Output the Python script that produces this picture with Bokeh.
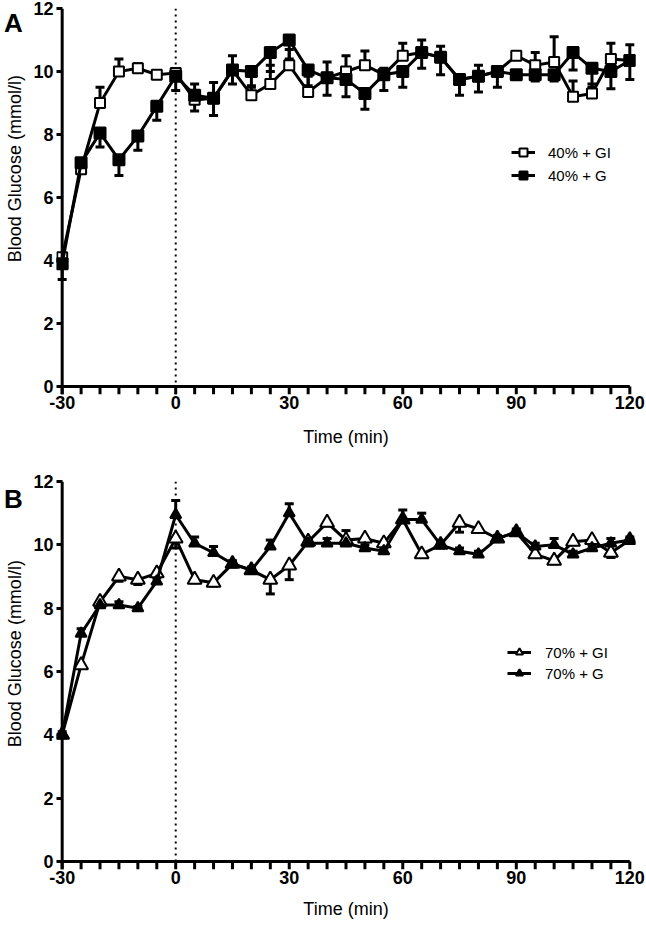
import math
from bokeh.plotting import figure
from bokeh.models import (Range1d, FixedTicker, Span, Whisker, TeeHead, ColumnDataSource,
                          Legend, LegendItem)
from bokeh.layouts import column, row
from bokeh.embed import file_html
from bokeh.resources import INLINE
from bokeh.core.properties import value

FONT = "Liberation Sans"

# ---------------- data ----------------
time_min = [-30, -25, -20, -15, -10, -5, 0, 5, 10, 15, 20, 25, 30, 35, 40, 45, 50,
            55, 60, 65, 70, 75, 80, 85, 90, 95, 100, 105, 110, 115, 120]

x_major_ticks = [-30, 0, 30, 60, 90, 120]
x_tick_labels = ["-30", "0", "30", "60", "90", "120"]
x_minor_ticks = [-30, -25, -20, -15, -10, -5, 0, 5, 10, 15, 20, 25, 30, 35, 40, 45, 50,
                 55, 60, 65, 70, 75, 80, 85, 90, 95, 100, 105, 110, 115, 120]
y_ticks = [0, 2, 4, 6, 8, 10, 12]
x_title = "Time (min)"
y_title = "Blood Glucose (mmol/l)"

# Panel A
a_gi_label = "40% + GI"
a_gi = [4.1, 6.9, 9.0, 10.0, 10.1, 9.9, 9.95, 9.1, 9.15, 10.05, 9.25, 9.6, 10.2, 9.35,
        9.8, 10.0, 10.2, 9.9, 10.5, 10.6, 10.45, 9.75, 9.85, 10.0, 10.5, 10.2, 10.3,
        9.2, 9.3, 10.4, 10.35]
a_gi_err = [0.1, 0.1, 0.5, 0.4, 0.15, 0.05, 0.1, 0.5, 0.5, 0.45, 0.3, 0.6, 0.5, 0.5,
            0.5, 0.5, 0.45, 0.2, 0.4, 0.4, 0.35, 0.05, 0.35, 0.05, 0.1, 0.4, 0.8,
            0.5, 0.3, 0.5, 0.5]
a_g_label = "40% + G"
a_g = [3.9, 7.1, 8.05, 7.2, 7.95, 8.9, 9.85, 9.25, 9.15, 10.05, 10.0, 10.6, 11.0, 10.05,
       9.8, 9.75, 9.3, 9.9, 10.0, 10.6, 10.45, 9.75, 9.85, 10.0, 9.9, 9.9, 9.9,
       10.6, 10.1, 10.0, 10.35]
a_g_err = [0.5, 0.2, 0.45, 0.5, 0.45, 0.45, 0.45, 0.5, 0.55, 0.45, 0.5, 0.6, 0.6, 0.5,
           0.55, 0.55, 0.5, 0.5, 0.5, 0.5, 0.55, 0.5, 0.5, 0.5, 0.1, 0.2, 0.2,
           0.55, 0.6, 0.55, 0.6]

# Panel B
b_gi_label = "70% + GI"
b_gi = [4.0, 6.2, 8.2, 9.0, 8.9, 9.1, 10.2, 8.9, 8.8, 9.4, 9.2, 8.9, 9.35, 10.1,
        10.7, 10.15, 10.2, 10.05, 10.8, 9.7, 10.0, 10.7, 10.5, 10.2, 10.4, 9.7, 9.5,
        10.1, 10.15, 9.75, 10.15]
b_gi_err = [0.1, 0.1, 0.1, 0.15, 0.15, 0.1, 0.3, 0.1, 0.1, 0.1, 0.1, 0.45, 0.45, 0.1,
            0.1, 0.1, 0.1, 0.1, 0.1, 0.1, 0.1, 0.3, 0.1, 0.1, 0.1, 0.1, 0.1,
            0.1, 0.1, 0.15, 0.1]
b_g_label = "70% + G"
b_g = [4.0, 7.2, 8.1, 8.1, 8.0, 8.85, 10.95, 10.05, 9.75, 9.4, 9.2, 9.95, 11.0, 10.05,
       10.05, 10.05, 9.9, 9.8, 10.8, 10.8, 10.0, 9.8, 9.7, 10.2, 10.4, 9.95, 10.0,
       9.7, 9.9, 10.05, 10.15]
b_g_err = [0.1, 0.15, 0.1, 0.1, 0.05, 0.1, 0.45, 0.2, 0.2, 0.1, 0.1, 0.2, 0.3, 0.1,
           0.15, 0.4, 0.1, 0.1, 0.3, 0.2, 0.1, 0.1, 0.1, 0.1, 0.1, 0.1, 0.2,
           0.1, 0.1, 0.15, 0.1]

SIDE_W = 30
MAIN_W = 616
TICK_LEN = 8


def make_side(letter, height, letter_y, title_y):
    # narrow figure that holds the panel letter and the rotated y-axis title
    s = figure(width=SIDE_W, height=height, output_backend="svg", toolbar_location=None,
               x_range=Range1d(0, SIDE_W), y_range=Range1d(0, height),
               x_axis_location=None, y_axis_location=None,
               min_border=0, min_border_left=0, min_border_right=0,
               min_border_top=0, min_border_bottom=0)
    s.outline_line_color = None
    s.xgrid.visible = False
    s.ygrid.visible = False
    s.text(x=[13], y=[height - letter_y], text=[letter], text_font=value(FONT),
           text_font_size=value("26px"), text_font_style="bold", text_color="black",
           text_align="center", text_baseline="middle")
    s.text(x=[14], y=[height - title_y], text=[y_title], angle=math.pi / 2,
           text_font=value(FONT), text_font_size=value("18px"), text_color="black",
           text_align="center", text_baseline="middle")
    return s


def make_panel(series, height, b_top, b_bottom, px_unit, leg_loc, leg_gh, leg_sp, leg_std,
               xl_standoff):
    y_pad = TICK_LEN / px_unit   # room under y=0 so that the x ticks lie inside the frame
    p = figure(width=MAIN_W, height=height, output_backend="svg", toolbar_location=None,
               x_range=Range1d(-31.5, 121.5), y_range=Range1d(-y_pad, 12),
               min_border_left=26, min_border_right=11,
               min_border_top=b_top, min_border_bottom=b_bottom)
    p.outline_line_color = None
    p.xgrid.visible = False
    p.ygrid.visible = False

    xa = p.xaxis[0]
    ya = p.yaxis[0]
    xa.ticker = FixedTicker(ticks=x_major_ticks)
    xa.major_label_overrides = dict(zip(x_major_ticks, x_tick_labels))
    ya.ticker = FixedTicker(ticks=y_ticks)
    for ax in (xa, ya):
        ax.axis_line_color = None
        ax.major_tick_line_width = 3
        ax.major_tick_line_color = "black"
        ax.minor_tick_line_color = None
        ax.major_label_text_font = FONT
        ax.major_label_text_font_style = "bold"
        ax.major_label_text_font_size = "18px"
        ax.major_label_text_color = "black"
    xa.major_tick_line_color = None
    xa.major_tick_out = 0
    xa.major_tick_in = 0
    xa.major_label_standoff = 1
    xa.axis_label = x_title
    xa.axis_label_text_font = FONT
    xa.axis_label_text_font_size = "18px"
    xa.axis_label_text_font_style = "normal"
    xa.axis_label_text_color = "black"
    xa.axis_label_standoff = xl_standoff
    ya.major_tick_out = 0
    ya.major_tick_in = 6
    ya.major_label_standoff = 3

    # axis lines: y at x = -30, x at y = 0, and the x tick marks under it
    p.add_layout(Span(location=x_major_ticks[0], dimension="height", line_color="black",
                      line_width=3))
    p.line(x=[x_major_ticks[0], x_major_ticks[-1]], y=[y_ticks[0], y_ticks[0]],
           line_width=3, line_color="black")
    tick_src = ColumnDataSource(dict(x=x_minor_ticks,
                                     y0=[y_ticks[0]] * len(x_minor_ticks),
                                     y1=[-y_pad] * len(x_minor_ticks)))
    p.segment(x0="x", y0="y0", x1="x", y1="y1", source=tick_src,
              line_width=3, line_color="black")
    p.add_layout(Span(location=0, dimension="height", line_color="black",
                      line_width=2, line_dash="2 4", level="underlay"))

    items = []
    for s in series:
        src = ColumnDataSource(dict(
            x=time_min, y=s["y"],
            upper=[v + e if s["dir"] > 0 else v for v, e in zip(s["y"], s["err"])],
            lower=[v if s["dir"] > 0 else v - e for v, e in zip(s["y"], s["err"])],
        ))
        head = TeeHead(size=9, line_width=3, line_color="black")
        if s["dir"] > 0:
            w = Whisker(source=src, base="x", upper="upper", lower="lower",
                        line_width=3, line_color="black", upper_head=head, lower_head=None,
                        level="underlay")
        else:
            w = Whisker(source=src, base="x", upper="upper", lower="lower",
                        line_width=3, line_color="black", lower_head=head, upper_head=None,
                        level="underlay")
        p.add_layout(w)
        lr = p.line("x", "y", source=src, line_width=3, line_color="black",
                    line_join="miter")
        sr = p.scatter("x", "y", source=src, marker=s["marker"], size=s["size"],
                       fill_color=s["fill"], line_color="black", line_width=2)
        items.append(LegendItem(label=s["label"], renderers=[lr, sr]))

    leg = Legend(items=items, location=leg_loc, orientation="vertical",
                 glyph_width=24, glyph_height=leg_gh, label_height=leg_gh,
                 label_standoff=leg_std, spacing=leg_sp, padding=0, margin=0,
                 border_line_color=None, background_fill_alpha=0,
                 label_text_font=FONT, label_text_font_size="15px",
                 label_text_color="black")
    p.add_layout(leg)
    return p


H_A = 470
H_B = 453

pA = make_panel([
    dict(y=a_gi, err=a_gi_err, dir=1, marker="square", size=10, fill="white", label=a_gi_label),
    dict(y=a_g, err=a_g_err, dir=-1, marker="square", size=11, fill="black", label=a_g_label),
], height=H_A, b_top=8, b_bottom=76, px_unit=378 / 12, leg_loc=(455, 209), leg_gh=20,
    leg_sp=3, leg_std=13, xl_standoff=15)
sA = make_side("A", H_A, letter_y=18, title_y=195)

pB = make_panel([
    dict(y=b_gi, err=b_gi_err, dir=-1, marker="triangle", size=14, fill="white", label=b_gi_label),
    dict(y=b_g, err=b_g_err, dir=1, marker="triangle", size=11, fill="black", label=b_g_label),
], height=H_B, b_top=11, b_bottom=54, px_unit=380 / 12, leg_loc=(451, 187), leg_gh=18,
    leg_sp=3, leg_std=14, xl_standoff=12)
sB = make_side("B", H_B, letter_y=21, title_y=201)

layout = column(row(sA, pA, spacing=0), row(sB, pB, spacing=0), spacing=0)
open("out.html", "w").write(file_html(layout, INLINE))
